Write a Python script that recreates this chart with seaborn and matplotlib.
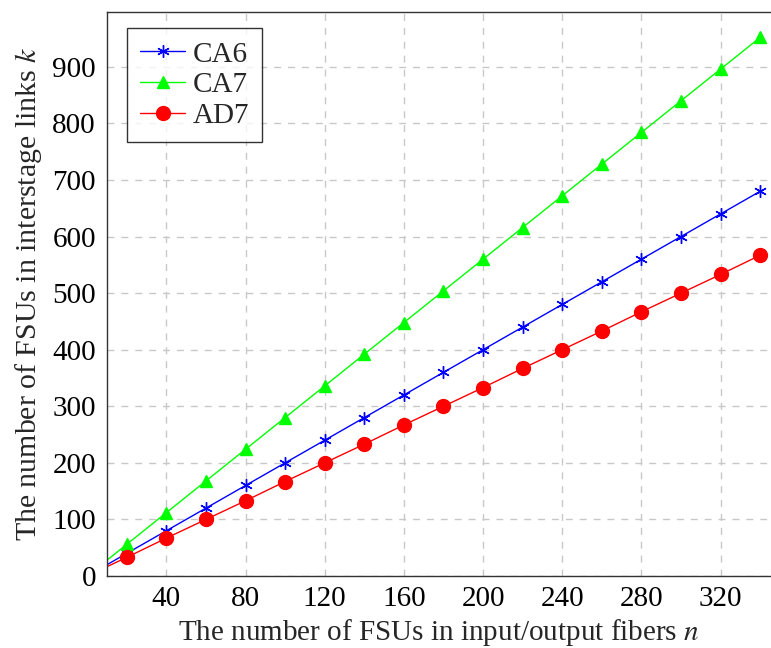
import matplotlib
matplotlib.use("Agg")
import matplotlib.pyplot as plt
import seaborn as sns
import pandas as pd

n = [0, 20, 40, 60, 80, 100, 120, 140, 160, 180, 200, 220, 240, 260, 280, 300, 320, 340]
ca6 = [0, 40, 80, 120, 160, 200, 240, 280, 320, 360, 400, 440, 480, 520, 560, 600, 640, 680]
ca7 = [0, 56, 112, 168, 224, 280, 336, 392, 448, 504, 560, 616, 672, 728, 784, 840, 896, 952]
ad7 = [0, 33, 67, 100, 133, 167, 200, 233, 267, 300, 333, 367, 400, 433, 467, 500, 533, 567]
series_names = ["CA6", "CA7", "AD7"]
xticks = [40, 80, 120, 160, 200, 240, 280, 320]
yticks = [0, 100, 200, 300, 400, 500, 600, 700, 800, 900]

df = pd.DataFrame({
    "n": n * 3,
    "k": ca6 + ca7 + ad7,
    "series": [s for s in series_names for _ in n],
})

sns.set_theme(style="white")
plt.rcParams["font.family"] = ["Liberation Serif", "DejaVu Serif"]
plt.rcParams["mathtext.fontset"] = "stix"

fig = plt.figure(figsize=(7.71, 6.48), dpi=100)
ax = fig.add_axes([107 / 771, 1 - 576 / 648, 1 - 107 / 771, (576 - 12) / 648])

palette = {"CA6": (0, 0, 1), "CA7": (0, 1, 0), "AD7": (1, 0, 0)}
markers = {"CA6": (6, 2, 0), "CA7": "^", "AD7": "o"}
sizes = {"CA6": 9, "CA7": 9, "AD7": 10}

for s in series_names:
    sub = df[df["series"] == s]
    sns.lineplot(data=sub, x="n", y="k", ax=ax, color=palette[s], marker=markers[s],
                 markersize=sizes[s], markeredgecolor=palette[s], markeredgewidth=1.0,
                 linewidth=1.0, label=s, clip_on=True)

ax.set_xlim(10, 345.5)
ax.set_ylim(0, 997)
ax.set_xticks(xticks)
ax.set_yticks(yticks)
ax.tick_params(axis="both", labelsize=21, length=0, colors="black")
ax.tick_params(axis="y", pad=8)
ax.tick_params(axis="x", pad=7)
ax.grid(True, color="#c8c8c8", linestyle=(0, (5, 5)), linewidth=1.0)
for side in ["left", "bottom", "top"]:
    ax.spines[side].set_color("#333333")
    ax.spines[side].set_linewidth(1.0)
ax.spines["right"].set_visible(False)

ax.set_xlabel("The number of FSUs in input/output fibers $n$", fontsize=21, labelpad=4)
ax.set_ylabel("The number of FSUs in interstage links $k$", fontsize=21.5, labelpad=6)

leg = ax.legend(loc="upper left", bbox_to_anchor=(20 / 664, (576 - 28) / 564), borderaxespad=0,
                fontsize=21, frameon=True, fancybox=False, edgecolor="black",
                handlelength=1.55, handletextpad=0.25, borderpad=0.45, labelspacing=0.15)
leg.get_frame().set_linewidth(1.0)

fig.savefig("out.png", dpi=100)
